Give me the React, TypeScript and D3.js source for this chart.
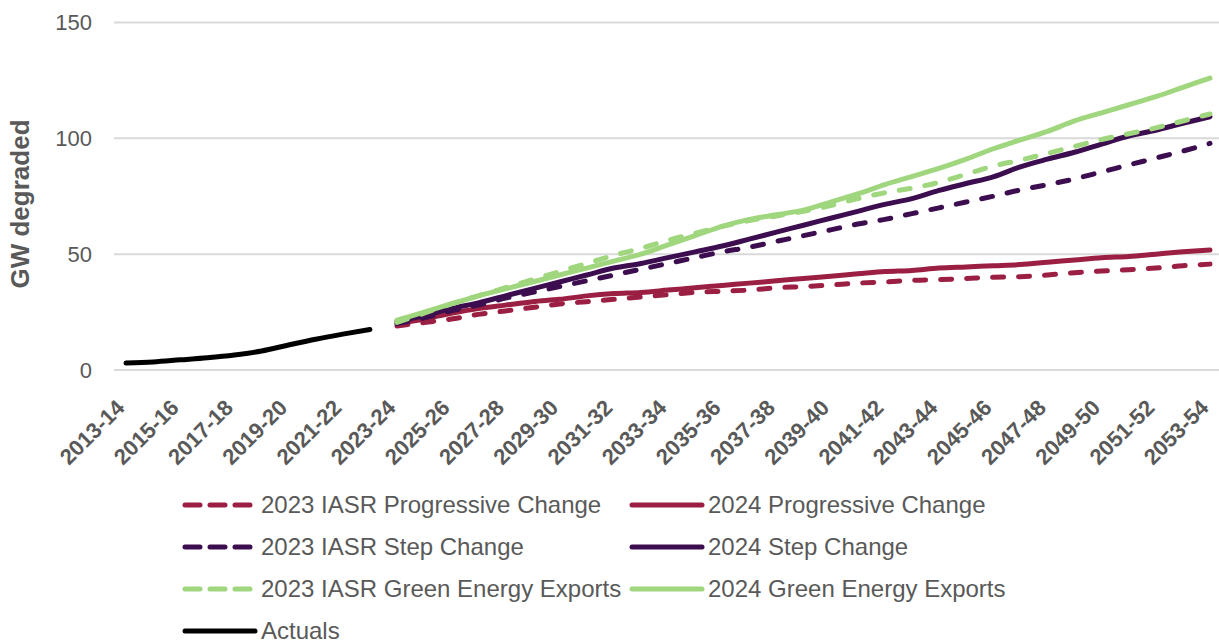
import React from 'react';
import * as d3 from 'd3';

// financial years on the x axis
const years: string[] = [
  '2013-14', '2014-15', '2015-16', '2016-17', '2017-18', '2018-19', '2019-20', '2020-21',
  '2021-22', '2022-23', '2023-24', '2024-25', '2025-26', '2026-27', '2027-28', '2028-29',
  '2029-30', '2030-31', '2031-32', '2032-33', '2033-34', '2034-35', '2035-36', '2036-37',
  '2037-38', '2038-39', '2039-40', '2040-41', '2041-42', '2042-43', '2043-44', '2044-45',
  '2045-46', '2046-47', '2047-48', '2048-49', '2049-50', '2050-51', '2051-52', '2052-53',
  '2053-54',
];

const actualYears = years.slice(0, 10);
const projYears = years.slice(10);

const actuals = [3, 3.5, 4.4, 5.3, 6.5, 8.2, 10.8, 13.3, 15.5, 17.5];

// 2023-24 .. 2053-54
const progressive2023 = [
  19, 20.5, 22, 24, 25.5, 27, 28.5, 29.5, 30.5, 31.5, 32.5, 33.5, 34, 34.5, 35.5, 36,
  36.7, 37.5, 38, 38.7, 39, 39.5, 40, 40.3, 41, 42, 42.7, 43.3, 44, 45, 45.7,
];
const progressive2024 = [
  20, 22, 24.5, 26.5, 28, 29.5, 30.5, 32, 33, 33.5, 34.5, 35.5, 36.5, 37.5, 38.5, 39.5,
  40.5, 41.5, 42.5, 43, 44, 44.5, 45, 45.5, 46.5, 47.5, 48.5, 49, 50, 51, 51.8,
];
const step2023 = [
  20, 22.5, 25.5, 28, 31, 33.5, 36, 38.5, 41, 43.5, 46, 48.5, 51, 53, 55.5, 58,
  60.5, 63, 65, 67.5, 70, 72.5, 75, 77.7, 80, 82.5, 85.5, 88.5, 91.5, 94.5, 97.8,
];
const step2024 = [
  21, 23.5, 26.5, 29, 32, 35, 38, 41, 44, 46, 48.5, 51, 53.5, 56.5, 59.5, 62.5,
  65.5, 68.5, 71.5, 74, 77.5, 80.5, 83.4, 87.7, 91, 94, 97.5, 101, 103.5, 106.5, 109.3,
];
const green2023 = [
  20.5, 24.5, 28.5, 32, 35.5, 39, 42.5, 46, 49.5, 52.5, 56, 59, 62, 64.5, 66.5, 68.5,
  71, 74, 76.5, 78.5, 81, 84.5, 88, 90.6, 93.5, 96.5, 99.5, 102, 104.5, 107.5, 110.5,
];
const green2024 = [
  21.5, 25, 28.5, 32, 35, 38, 41, 44, 47, 50, 54, 58, 62, 65, 67, 69,
  72.5, 76, 80, 83.5, 87, 91, 95.5, 99.3, 103, 107.5, 111, 114.5, 118, 122, 126,
];

const yTicks = [0, 50, 100, 150];

const RED = '#9b1f43';
const PURPLE = '#3c0e4f';
const GREEN = '#9fd67e';

interface Series {
  name: string;
  x: string[];
  values: number[];
  color: string;
  dashed: boolean;
}

const series: Series[] = [
  { name: '2023 IASR Progressive Change', x: projYears, values: progressive2023, color: RED, dashed: true },
  { name: '2024 Progressive Change', x: projYears, values: progressive2024, color: RED, dashed: false },
  { name: '2023 IASR Step Change', x: projYears, values: step2023, color: PURPLE, dashed: true },
  { name: '2024 Step Change', x: projYears, values: step2024, color: PURPLE, dashed: false },
  { name: '2023 IASR Green Energy Exports', x: projYears, values: green2023, color: GREEN, dashed: true },
  { name: '2024 Green Energy Exports', x: projYears, values: green2024, color: GREEN, dashed: false },
  { name: 'Actuals', x: actualYears, values: actuals, color: '#000000', dashed: false },
];

// draw order: back to front like the source
const drawOrder = [1, 0, 3, 2, 5, 4, 6];

const W = 1219;
const H = 643;
const FONT = 'Liberation Sans, Arial, sans-serif';
const GREY = '#595959';

const App: React.FC = () => {
  const x = d3.scalePoint<string>().domain(years).range([126, 1210]);
  const y = d3.scaleLinear().domain([0, 150]).range([370, 22.5]);

  const line = (s: Series) =>
    d3
      .line<number>()
      .x((_, i) => x(s.x[i])!)
      .y((d) => y(d))
      .curve(d3.curveMonotoneX)(s.values) || '';

  // legend layout
  const legendRows = [505, 547, 589, 631];
  const legendCols = [183, 630];
  const legendItems = series.map((s, i) => {
    if (i === 6) return { s, lx: legendCols[0], ly: legendRows[3] };
    return { s, lx: legendCols[i % 2], ly: legendRows[Math.floor(i / 2)] };
  });

  return (
    <svg
      width={W}
      height={H}
      style={{ position: 'absolute', left: 0, top: 0, background: '#fff' }}
      fontFamily={FONT}
    >
      {/* gridlines */}
      {yTicks.map((t) => (
        <line key={t} x1={114} x2={1219} y1={y(t)} y2={y(t)} stroke="#d9d9d9" strokeWidth={2} />
      ))}
      {yTicks.map((t) => (
        <text
          key={'l' + t}
          x={92}
          y={y(t)}
          dy="0.35em"
          textAnchor="end"
          fontSize={22}
          fill={GREY}
        >
          {t}
        </text>
      ))}
      <text
        transform="translate(29,204) rotate(-90)"
        textAnchor="middle"
        fontSize={26}
        fontWeight="bold"
        fill={GREY}
      >
        GW degraded
      </text>

      {/* x labels, every second year */}
      {years
        .filter((_, i) => i % 2 === 0)
        .map((yr) => (
          <text
            key={yr}
            transform={`translate(${x(yr)!},${409}) rotate(-45)`}
            textAnchor="end"
            fontSize={22}
            fontWeight="bold"
            fill={GREY}
          >
            {yr}
          </text>
        ))}

      {/* lines */}
      {drawOrder.map((k) => {
        const s = series[k];
        return (
          <path
            key={s.name}
            d={line(s)}
            fill="none"
            stroke={s.color}
            strokeWidth={5}
            strokeLinejoin="round"
            strokeLinecap="round"
            strokeDasharray={s.dashed ? '11 15' : undefined}
          />
        );
      })}

      {/* legend */}
      {legendItems.map(({ s, lx, ly }) => (
        <g key={'lg' + s.name}>
          <line
            x1={lx + 2}
            x2={lx + 72}
            y1={ly}
            y2={ly}
            stroke={s.color}
            strokeWidth={5}
            strokeLinecap="round"
            strokeDasharray={s.dashed ? '15 10' : undefined}
          />
          <text x={lx + 78} y={ly} dy="0.35em" fontSize={24} fill={GREY}>
            {s.name}
          </text>
        </g>
      ))}
    </svg>
  );
};

export default App;
